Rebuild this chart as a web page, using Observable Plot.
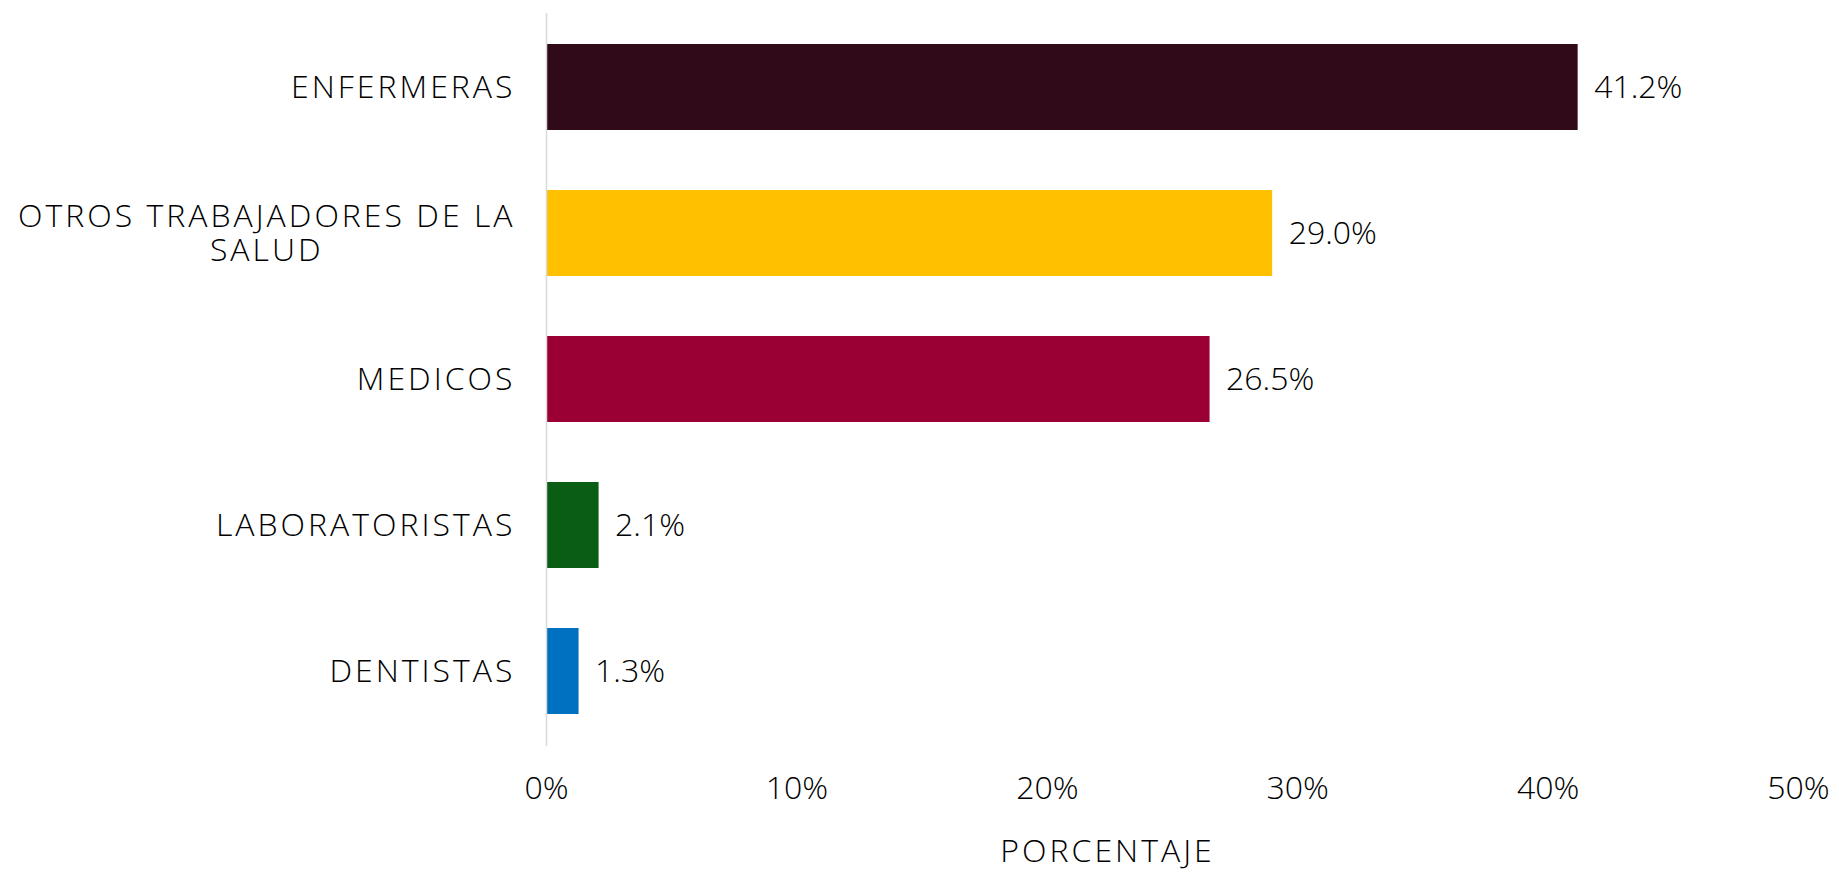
<!DOCTYPE html>
<html><head><meta charset="utf-8">
<script src="https://cdn.jsdelivr.net/npm/d3@7"></script>
<script src="https://cdn.jsdelivr.net/npm/@observablehq/plot@0.6"></script>
<style>
html,body{margin:0;padding:0;background:#fff;overflow:hidden;}
#chart{width:1839px;height:872px;overflow:hidden;}
#chart svg{display:block;}
</style></head><body><div id="chart"></div>
<script>
const categories = ["ENFERMERAS", "OTROS TRABAJADORES DE LA\nSALUD", "MEDICOS", "LABORATORISTAS", "DENTISTAS"];
const values = [41.2, 29.0, 26.5, 2.1, 1.3];
const colors = ["#310A1A", "#FFC000", "#9A0033", "#0A5E14", "#0070C0"];
const xTicks = [0, 10, 20, 30, 40, 50];
const xLabel = "PORCENTAJE";

const data = categories.map((c, i) => ({category: c, value: values[i], color: colors[i]}));
const font = "'Open Sans', sans-serif";
const fs = 32;

const chart = Plot.plot({
  width: 1839, height: 872,
  marginLeft: 546, marginRight: 41, marginTop: 13, marginBottom: 126,
  style: {fontFamily: font, fontSize: fs + "px", fontWeight: 300, background: "transparent", color: "#000"},
  x: {domain: [0, 50], label: null},
  y: {domain: categories, paddingInner: 0.41, paddingOuter: 0.205, label: null},
  color: {type: "identity"},
  marks: [
    Plot.barX(data, {x: "value", y: "category", fill: "color"}),
    Plot.ruleX([0], {stroke: "#d9d9d9", strokeWidth: 1.5}),
    Plot.axisX({ticks: xTicks, tickSize: 0, tickPadding: 30, tickFormat: d => d + "%", label: null, fontSize: fs, fill: "#000"}),
    Plot.axisY({tickSize: 0, tickPadding: 31, lineHeight: 1.05, label: null, fontSize: fs, fill: "#000"}),
    Plot.text(data, {x: "value", y: "category", text: d => d.value.toFixed(1) + "%", dx: 16, textAnchor: "start", fontSize: fs, fill: "#000"}),
    Plot.text([xLabel], {frameAnchor: "bottom", dx: -65, dy: 115, fontSize: fs, fill: "#000"})
  ]
});
document.getElementById("chart").append(chart);

const texts = [...chart.querySelectorAll("text")];
// wider tracking for the word labels (categories and axis title)
texts.filter(t => t.querySelectorAll("tspan").length > 1 || /^[A-Z ]+$/.test(t.textContent))
  .forEach(t => t.style.letterSpacing = "3px");

// centre the lines of the multi-line category label on each other, block stays right-aligned
texts.forEach(t => {
  const spans = t.querySelectorAll("tspan");
  if (spans.length > 1) {
    const w = Math.max(...[...spans].map(s => s.getComputedTextLength()));
    t.setAttribute("text-anchor", "middle");
    spans.forEach(s => s.setAttribute("x", -w / 2));
  }
});
</script></body></html>
